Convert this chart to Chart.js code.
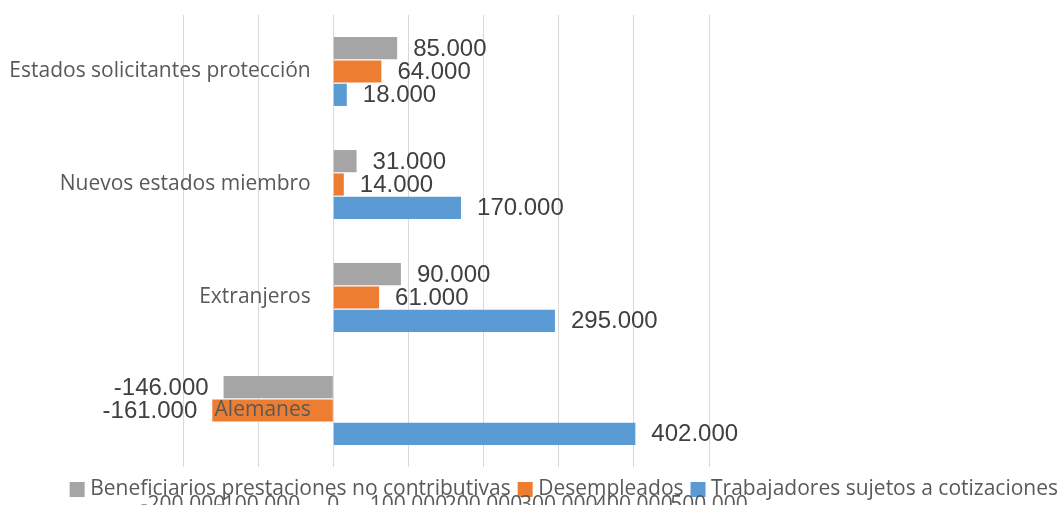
<!DOCTYPE html>
<html lang="es">
<head>
    <meta charset="UTF-8">
    <title>Trabajadores, desempleados y beneficiarios</title>
    <script src="https://cdn.jsdelivr.net/npm/chart.js"></script>
    <style>
        body {
            margin: 0;
            padding: 0;
            background: #fff;
        }

        .container {
            width: 1064px;
            height: 505px;
        }
    </style>
</head>
<body>
    <div class="container">
        <canvas id="cambioChart" width="1064" height="505"></canvas>
    </div>

    <script>
        // Chart data
        const categories = ['Estados solicitantes protección', 'Nuevos estados miembro', 'Extranjeros', 'Alemanes'];
        const beneficiarios = [85000, 31000, 90000, -146000];
        const desempleados = [64000, 14000, 61000, -161000];
        const trabajadores = [18000, 170000, 295000, 402000];
        const seriesNames = ['Beneficiarios prestaciones no contributivas', 'Desempleados', 'Trabajadores sujetos a cotizaciones'];
        const axisMin = -200000;
        const axisMax = 500000;
        const axisStep = 100000;

        const textFont = '"Open Sans"';
        const textGray = '#595959';

        // 85000 -> "85.000"
        function formatNumber(v) {
            const s = Math.abs(v).toString().replace(/\B(?=(\d{3})+(?!\d))/g, '.');
            return (v < 0 ? '-' : '') + s;
        }

        // Value labels outside the bar end
        const barLabels = {
            id: 'barLabels',
            afterDatasetsDraw(chart) {
                const ctx = chart.ctx;
                ctx.save();
                ctx.font = '24px "Liberation Sans", Arial, sans-serif';
                ctx.fillStyle = '#404040';
                ctx.textBaseline = 'middle';
                chart.data.datasets.forEach((ds, i) => {
                    chart.getDatasetMeta(i).data.forEach((bar, j) => {
                        const v = ds.data[j];
                        if (v >= 0) {
                            ctx.textAlign = 'left';
                            ctx.fillText(formatNumber(v), bar.x + 16, bar.y + 1);
                        } else {
                            ctx.textAlign = 'right';
                            ctx.fillText(formatNumber(v), bar.x - 15, bar.y + 1);
                        }
                    });
                });
                ctx.restore();
            }
        };

        // empty axes that only reserve room around the plot
        function spacer(axis, position, size) {
            return {
                type: 'linear',
                axis: axis,
                position: position,
                grid: { display: false },
                border: { display: false },
                ticks: { display: false },
                afterFit(scale) {
                    if (axis === 'y') scale.width = size;
                    else scale.height = size;
                }
            };
        }

        const ctx = document.getElementById('cambioChart').getContext('2d');
        const myChart = new Chart(ctx, {
            type: 'bar',
            data: {
                labels: categories,
                datasets: [
                    { label: seriesNames[0], data: beneficiarios, backgroundColor: '#a5a5a5' },
                    { label: seriesNames[1], data: desempleados, backgroundColor: '#ed7d31' },
                    { label: seriesNames[2], data: trabajadores, backgroundColor: '#5b9bd5' }
                ]
            },
            options: {
                indexAxis: 'y',
                responsive: false,
                animation: false,
                categoryPercentage: 0.62,
                barPercentage: 0.95,
                layout: {
                    padding: { left: 0, right: -6, top: 15, bottom: -5 }
                },
                scales: {
                    x: {
                        position: { y: 3.5 },
                        min: axisMin,
                        max: axisMax,
                        afterBuildTicks(scale) {
                            const ticks = [];
                            for (let v = axisMin; v <= axisMax; v += axisStep) ticks.push({ value: v });
                            scale.ticks = ticks;
                        },
                        grid: {
                            color: '#d9d9d9',
                            lineWidth: 1,
                            drawTicks: false
                        },
                        border: { display: false },
                        ticks: {
                            autoSkip: false,
                            maxRotation: 0,
                            minRotation: 0,
                            padding: 25,
                            color: textGray,
                            font: { family: textFont, size: 21 },
                            callback: (v) => formatNumber(v)
                        }
                    },
                    y: {
                        // labels sit a little left of the zero line, drawn over the bars
                        position: { x: -30000 },
                        grid: { display: false, drawTicks: false },
                        border: { display: false },
                        ticks: {
                            z: 1,
                            padding: 0,
                            color: textGray,
                            font: { family: textFont, size: 21 }
                        }
                    },
                    padLeft: spacer('y', 'left', 183),
                    padRight: spacer('y', 'right', 361),
                    padBottom: spacer('x', 'bottom', 0)
                },
                plugins: {
                    legend: {
                        position: 'bottom',
                        align: 'end',
                        labels: {
                            usePointStyle: true,
                            pointStyle: 'rect',
                            boxWidth: 5,
                            boxHeight: 15,
                            padding: 12,
                            color: textGray,
                            font: { family: textFont, size: 21 }
                        }
                    },
                    tooltip: { enabled: false }
                }
            },
            plugins: [barLabels]
        });
    </script>
</body>
</html>
